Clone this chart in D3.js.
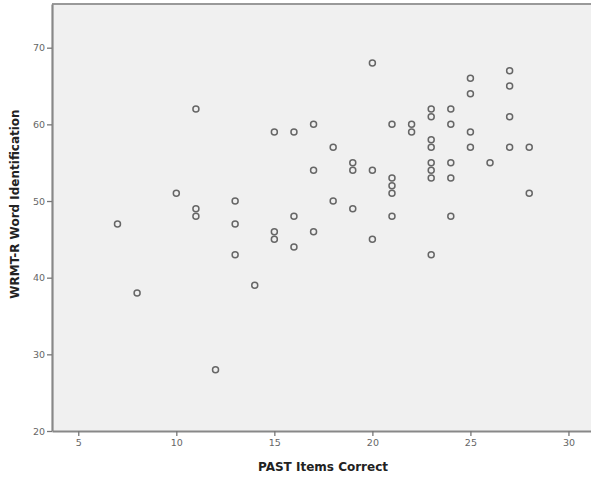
<!DOCTYPE html>
<html><head><meta charset="utf-8">
<script src="https://cdn.jsdelivr.net/npm/d3@7"></script>
<style>body{margin:0;background:#fff}svg{display:block}</style>
</head><body>
<script>
const pastItems = [7,8,10,11,11,11,12,13,13,13,14,15,15,15,16,16,16,17,17,17,18,18,19,19,19,20,20,20,21,21,21,21,21,22,22,23,23,23,23,23,23,23,23,24,24,24,24,24,25,25,25,25,26,27,27,27,27,28,28];
const wrmtScores = [47,38,51,62,49,48,28,50,47,43,39,59,46,45,59,48,44,60,54,46,57,50,55,54,49,68,54,45,60,53,52,51,48,60,59,62,61,58,57,55,54,53,43,62,60,55,53,48,66,64,59,57,55,67,65,61,57,57,51];
const xTicks = [5,10,15,20,25,30];
const yTicks = [20,30,40,50,60,70];
const xTitle = "PAST Items Correct";
const yTitle = "WRMT-R Word Identification";

const W = 591, H = 479;
const pL = 52, pR = 591, pT = 4, pB = 431;
const svg = d3.select("body").append("svg").attr("width", W).attr("height", H);

const x = d3.scaleLinear().domain([3.66, 31.15]).range([pL, pR]);
const y = d3.scaleLinear().domain([20, 75.7]).range([pB, pT]);

svg.append("rect").attr("x", pL).attr("y", pT).attr("width", pR-pL).attr("height", pB-pT).attr("fill", "#f0f0f0");
svg.append("line").attr("x1", pL).attr("x2", pR).attr("y1", pT).attr("y2", pT).attr("stroke", "#999").attr("stroke-width", 2);

const xAxis = svg.append("g").attr("transform", `translate(0,${pB})`)
  .call(d3.axisBottom(x).tickValues(xTicks).tickSize(5).tickPadding(3).tickSizeOuter(0));
const yAxis = svg.append("g").attr("transform", `translate(${pL},0)`)
  .call(d3.axisLeft(y).tickValues(yTicks).tickSize(5).tickPadding(2).tickSizeOuter(0));
[xAxis, yAxis].forEach(g => {
  g.select(".domain").attr("stroke", "#888").attr("stroke-width", 2.2);
  g.selectAll(".tick line").attr("stroke", "#777").attr("stroke-width", 1.3);
  g.selectAll(".tick text").attr("fill", "#666").style("font-family", "DejaVu Sans").style("font-size", "9.5px");
});

svg.append("g").selectAll("circle").data(pastItems.map((v,i)=>[v, wrmtScores[i]])).join("circle")
  .attr("cx", d => x(d[0])).attr("cy", d => y(d[1])).attr("r", 3)
  .attr("fill", "none").attr("stroke", "#666").attr("stroke-width", 1.5);

svg.append("text").attr("x", 323).attr("y", 471).attr("text-anchor", "middle")
  .style("font-family", "DejaVu Sans").style("font-weight", "bold").style("font-size", "12px").attr("fill", "#222").text(xTitle);
svg.append("text").attr("transform", "translate(19,204) rotate(-90)").attr("text-anchor", "middle")
  .style("font-family", "DejaVu Sans").style("font-weight", "bold").style("font-size", "12px").attr("fill", "#222").text(yTitle);
</script>
</body></html>
